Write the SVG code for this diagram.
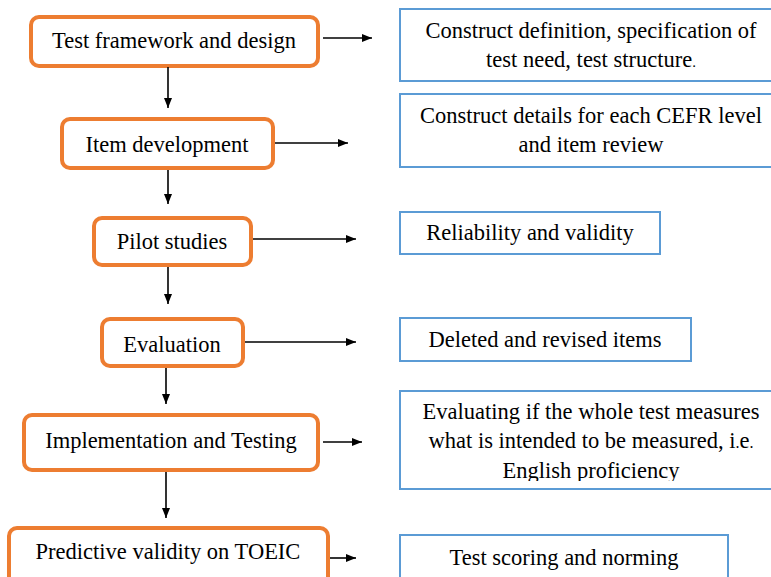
<svg xmlns="http://www.w3.org/2000/svg" width="771" height="577" viewBox="0 0 771 577">
  <style>
    .step { fill: #ffffff; stroke: #ED7D31; stroke-width: 4; }
    .note { fill: #ffffff; stroke: #5B9BD5; stroke-width: 2; }
    text { font-family: "Liberation Serif", "Times New Roman", serif; font-size: 22.5px; fill: #000000; text-anchor: middle; }
    .link { stroke: #000000; stroke-width: 1.6; fill: none; marker-end: url(#head); }
  </style>
  <defs>
    <marker id="head" markerWidth="10" markerHeight="8" refX="10" refY="4" orient="auto" markerUnits="userSpaceOnUse">
      <path d="M0,0 L10,4 L0,8 Z" fill="#000000"/>
    </marker>
    <clipPath id="clip5">
      <rect x="400" y="391" width="371" height="90"/>
    </clipPath>
  </defs>
  <rect width="771" height="577" fill="#ffffff"/>

  <!-- process steps -->
  <g id="step1">
    <rect class="step" x="31" y="17" width="287" height="49" rx="8"/>
    <text x="174" y="48">Test framework and design</text>
  </g>
  <g id="step2">
    <rect class="step" x="62" y="119" width="211" height="49" rx="8"/>
    <text x="167" y="152">Item development</text>
  </g>
  <g id="step3">
    <rect class="step" x="94" y="218" width="157" height="47" rx="8"/>
    <text x="172" y="249">Pilot studies</text>
  </g>
  <g id="step4">
    <rect class="step" x="102" y="319" width="141" height="47" rx="8"/>
    <text x="172" y="352">Evaluation</text>
  </g>
  <g id="step5">
    <rect class="step" x="24" y="415" width="294" height="55" rx="8"/>
    <text x="171" y="448">Implementation and Testing</text>
  </g>
  <g id="step6">
    <rect class="step" x="9" y="528" width="319" height="60" rx="8"/>
    <text x="168" y="559">Predictive validity on TOEIC</text>
  </g>

  <!-- outcome notes -->
  <g id="note1">
    <rect class="note" x="400" y="9" width="380" height="72"/>
    <text x="591" y="38">Construct definition, specification of</text>
    <text x="591" y="67">test need, test structure<tspan font-size="15">.</tspan></text>
  </g>
  <g id="note2">
    <rect class="note" x="400" y="94" width="380" height="73"/>
    <text x="591" y="123">Construct details for each CEFR level</text>
    <text x="591" y="152">and item review</text>
  </g>
  <g id="note3">
    <rect class="note" x="400" y="212" width="260" height="42"/>
    <text x="530" y="240">Reliability and validity</text>
  </g>
  <g id="note4">
    <rect class="note" x="400" y="318" width="291" height="43"/>
    <text x="545" y="347">Deleted and revised items</text>
  </g>
  <g id="note5">
    <rect class="note" x="400" y="391" width="380" height="98"/>
    <text x="591" y="419">Evaluating if the whole test measures</text>
    <text x="591" y="448">what is intended to be measured, i<tspan font-size="16">.</tspan>e<tspan font-size="16">.</tspan></text>
    <text x="591" y="478" clip-path="url(#clip5)">English proficiency</text>
  </g>
  <g id="note6">
    <rect class="note" x="400" y="535" width="328" height="60"/>
    <text x="564" y="565">Test scoring and norming</text>
  </g>

  <!-- connectors -->
  <g id="connectors">
    <line class="link" x1="168" y1="67" x2="168" y2="108"/>
    <line class="link" x1="168" y1="170" x2="168" y2="204"/>
    <line class="link" x1="168" y1="267" x2="168" y2="304"/>
    <line class="link" x1="166" y1="368" x2="166" y2="404"/>
    <line class="link" x1="166" y1="472" x2="166" y2="518"/>

    <line class="link" x1="323" y1="38" x2="372" y2="38"/>
    <line class="link" x1="275" y1="143" x2="348" y2="143"/>
    <line class="link" x1="253" y1="239" x2="356" y2="239"/>
    <line class="link" x1="245" y1="342" x2="356" y2="342"/>
    <line class="link" x1="323" y1="442" x2="362" y2="442"/>
    <line class="link" x1="330" y1="558" x2="356" y2="558"/>
  </g>
</svg>
